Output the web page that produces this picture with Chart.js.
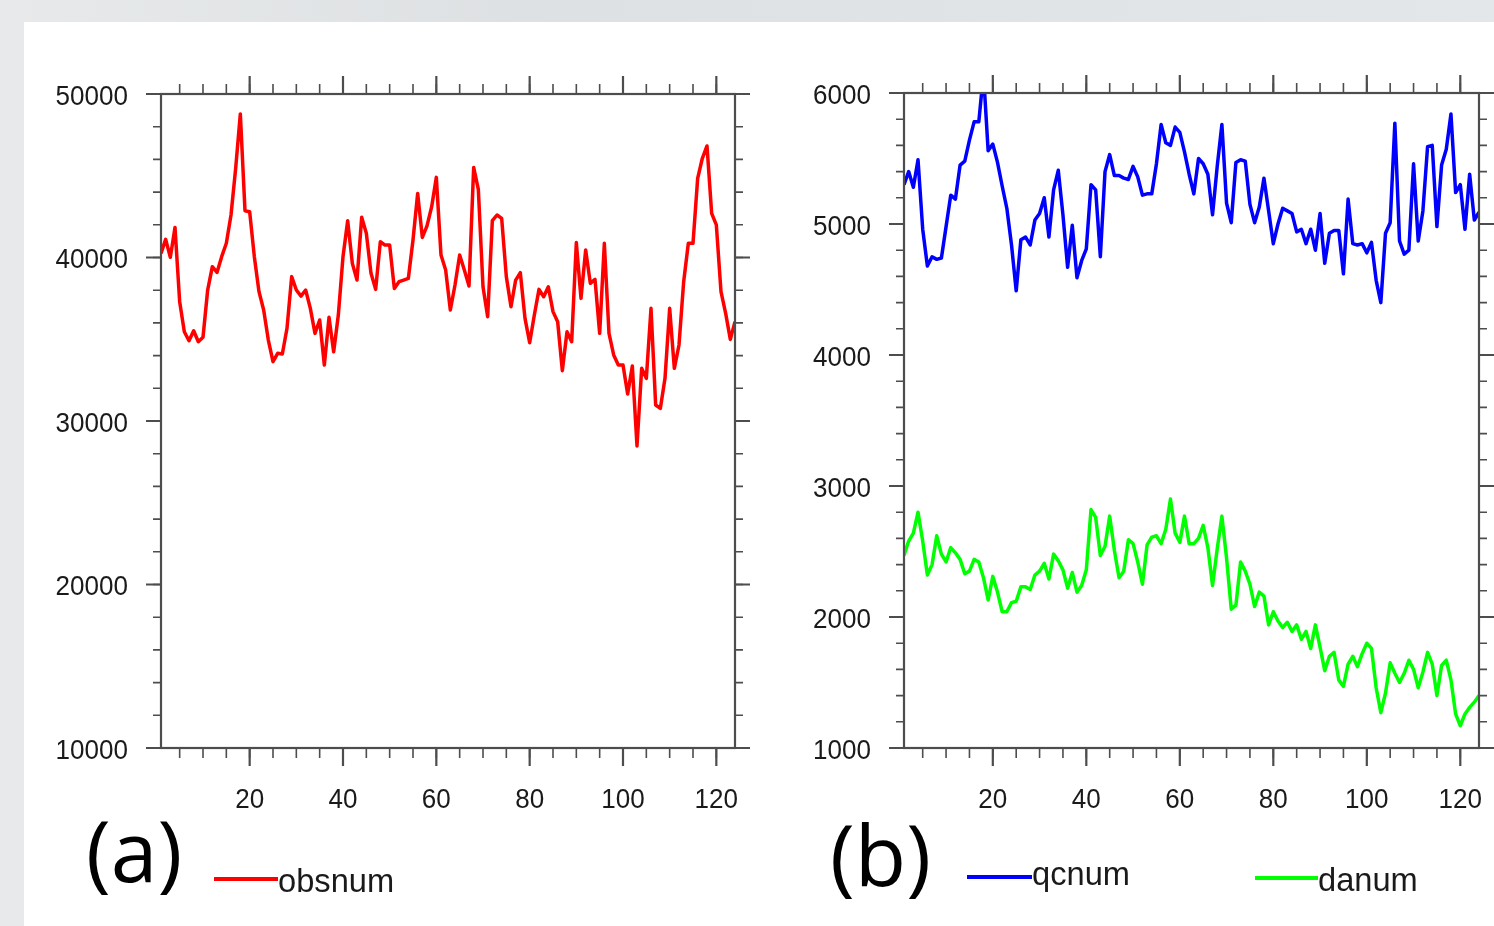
<!DOCTYPE html>
<html>
<head>
<meta charset="utf-8">
<script src="https://cdn.jsdelivr.net/npm/chart.js@4.4.1/dist/chart.umd.min.js"></script>
<style>
  html, body { margin: 0; padding: 0; }
  body {
    width: 1494px; height: 926px; position: relative; overflow: hidden;
    background: linear-gradient(90deg, #e7e9ea 0%, #dee1e3 35%, #e1e4e6 70%, #e4e7e9 100%);
  }
  #sheet { position: absolute; left: 24px; top: 22px; right: 0; bottom: 0; background: #fff; }
  canvas { position: absolute; top: 0; }
  #cvA { left: 0; }
  #cvB { left: 800px; }
  .tag { position: absolute; font-family: "Open Sans"; font-size: 84px; line-height: 1; color: #000; white-space: nowrap; }
  .key { position: absolute; font-family: "Liberation Sans"; font-size: 34px; line-height: 1; color: #1a1a1a;
         transform: scaleX(0.96); transform-origin: left top; white-space: nowrap; }
  .swatch { position: absolute; height: 4px; }
</style>
</head>
<body>
<div id="sheet"></div>
<canvas id="cvA" width="800" height="926"></canvas>
<canvas id="cvB" width="694" height="926"></canvas>

<div class="tag" style="left:86px; top:808px;">(a)</div>
<div class="swatch" style="left:214px; top:877px; width:64px; background:#ff0000;"></div>
<div class="key" style="left:278px; top:863px;">obsnum</div>

<div class="tag" style="left:830px; top:812px;">(b)</div>
<div class="swatch" style="left:967px; top:875px; width:65px; background:#0000ff;"></div>
<div class="key" style="left:1032px; top:856px;">qcnum</div>
<div class="swatch" style="left:1255px; top:876px; width:63px; background:#00ff00;"></div>
<div class="key" style="left:1318px; top:862px;">danum</div>

<script>
// observation counts per analysis cycle
const obsnum = [
  40250, 41110, 40010, 41840, 37300, 35460, 34910, 35520, 34850, 35120,
  38010, 39440, 39090, 40050, 40870, 42600, 45450, 48780, 42860, 42800,
  40050, 37910, 36790, 34950, 33630, 34140, 34100, 35670, 38830, 38010,
  37640, 38010, 36890, 35360, 36180, 33420, 36340, 34240, 36480, 40050,
  42250, 39640, 38620, 42460, 41480, 39030, 38050, 40970, 40760, 40760,
  38110, 38520, 38620, 38720, 41070, 43920, 41230, 41930, 43110, 44900,
  40150, 39230, 36790, 38320, 40150, 39230, 38260, 45510, 44170, 38210,
  36380, 42250, 42600, 42390, 38830, 36990, 38620, 39070, 36280, 34790,
  36480, 38050, 37600, 38210, 36690, 36070, 33080, 35460, 34850, 40910,
  37500, 40460, 38420, 38660, 35360, 40870, 35360, 34040, 33420, 33420,
  31650, 33360, 28470, 33220, 32610, 36890, 30980, 30770, 32610, 36890,
  33220, 34650, 38520, 40870, 40870, 44840, 46070, 46820, 42700, 41990,
  37910, 36580, 34990, 36070
];

// counts after quality control
const qcnum = [
  5300, 5400, 5280, 5490, 4960, 4680, 4750, 4730, 4740, 4980,
  5220, 5190, 5450, 5480, 5640, 5780, 5780, 6150, 5560, 5610,
  5470, 5290, 5120, 4840, 4490, 4880, 4900, 4840, 5030, 5080,
  5200, 4900, 5260, 5410, 5070, 4670, 4990, 4590, 4720, 4810,
  5300, 5260, 4750, 5400, 5530, 5370, 5370, 5350, 5340, 5440,
  5360, 5220, 5230, 5230, 5460, 5760, 5620, 5600, 5740, 5700,
  5550, 5380, 5230, 5500, 5460, 5380, 5070, 5440, 5760, 5160,
  5010, 5470, 5490, 5480, 5150, 5010, 5130, 5350, 5100, 4850,
  5000, 5120, 5100, 5080, 4940, 4960, 4850, 4960, 4800, 5080,
  4700, 4930, 4950, 4950, 4620, 5190, 4850, 4840, 4850, 4780,
  4860, 4570, 4400, 4930, 5010, 5770, 4870, 4770, 4800, 5460,
  4870, 5100, 5590, 5600, 4980, 5450, 5570, 5840, 5240, 5300,
  4960, 5380, 5030, 5090
];

// counts actually assimilated
const danum = [
  2470, 2580, 2640, 2800, 2580, 2320, 2400, 2620, 2480, 2420,
  2530, 2490, 2440, 2330, 2350, 2440, 2420, 2300, 2130, 2310,
  2190, 2040, 2040, 2110, 2120, 2230, 2230, 2210, 2320, 2350,
  2410, 2290, 2480, 2430, 2360, 2220, 2340, 2190, 2240, 2360,
  2820, 2760, 2470, 2540, 2770, 2510, 2300, 2350, 2590, 2560,
  2420, 2250, 2550, 2610, 2620, 2560, 2670, 2900, 2640, 2570,
  2770, 2560, 2560, 2600, 2700, 2530, 2240, 2520, 2770, 2450,
  2060, 2090, 2420, 2350, 2250, 2080, 2190, 2160, 1940, 2040,
  1970, 1920, 1960, 1890, 1940, 1830, 1890, 1760, 1940, 1770,
  1590, 1700, 1730, 1520, 1470, 1640, 1700, 1620, 1720, 1800,
  1760, 1460, 1270, 1420, 1650, 1570, 1500, 1570, 1670, 1600,
  1460, 1580, 1730, 1640, 1400, 1630, 1670, 1520, 1260, 1170,
  1260, 1310, 1350, 1400
];

const steps = obsnum.map((_, i) => i + 1);

const xTicks = [20, 40, 60, 80, 100, 120];
const obsTicks = [10000, 20000, 30000, 40000, 50000];
const numTicks = [1000, 2000, 3000, 4000, 5000, 6000];

// NCL-like frame: outward major/minor ticks on all four sides
const axisFrame = {
  id: 'axisFrame',
  afterDatasetsDraw(chart, args, o) {
    const { ctx, chartArea: a, scales: { x, y } } = chart;
    const MAJ_V = 18, MAJ_H = 15, MIN_V = 10, MIN_H = 8;
    ctx.save();
    ctx.strokeStyle = '#4d4d4d';
    ctx.lineCap = 'butt';

    ctx.lineWidth = 1.6;
    ctx.beginPath();
    for (let v = o.xMinor; v <= x.max; v += o.xMinor) {
      const px = x.getPixelForValue(v);
      if (px < a.left) continue;
      ctx.moveTo(px, a.bottom); ctx.lineTo(px, a.bottom + MIN_V);
      ctx.moveTo(px, a.top); ctx.lineTo(px, a.top - MIN_V);
    }
    for (let v = y.min; v <= y.max; v += o.yMinor) {
      const py = y.getPixelForValue(v);
      ctx.moveTo(a.left, py); ctx.lineTo(a.left - MIN_H, py);
      ctx.moveTo(a.right, py); ctx.lineTo(a.right + MIN_H, py);
    }
    ctx.stroke();

    ctx.lineWidth = 2.2;
    ctx.beginPath();
    xTicks.forEach(v => {
      const px = x.getPixelForValue(v);
      ctx.moveTo(px, a.bottom); ctx.lineTo(px, a.bottom + MAJ_V);
      ctx.moveTo(px, a.top); ctx.lineTo(px, a.top - MAJ_V);
    });
    o.yTicks.forEach(v => {
      const py = y.getPixelForValue(v);
      ctx.moveTo(a.left, py); ctx.lineTo(a.left - MAJ_H, py);
      ctx.moveTo(a.right, py); ctx.lineTo(a.right + MAJ_H, py);
    });
    ctx.stroke();
    ctx.strokeRect(a.left, a.top, a.right - a.left, a.bottom - a.top);

    ctx.fillStyle = '#1a1a1a';
    ctx.font = '28px "Liberation Sans"';
    ctx.textBaseline = 'alphabetic';
    const sx = 0.93;
    ctx.textAlign = 'center';
    xTicks.forEach(v => {
      ctx.save();
      ctx.translate(x.getPixelForValue(v), a.bottom + 60);
      ctx.scale(sx, 1);
      ctx.fillText(String(v), 0, 0);
      ctx.restore();
    });
    ctx.textAlign = 'right';
    o.yTicks.forEach(v => {
      ctx.save();
      ctx.translate(a.left - 33, y.getPixelForValue(v) + 10.5);
      ctx.scale(sx, 1);
      ctx.fillText(String(v), 0, 0);
      ctx.restore();
    });
    ctx.restore();
  }
};

function lineSet(label, data, color) {
  return {
    label, data,
    borderColor: color,
    borderWidth: 3.5,
    borderJoinStyle: 'round',
    pointRadius: 0,
    tension: 0,
    clip: 0
  };
}

function panel(id, datasets, yMin, yMax, yTicks, yMinor, pad) {
  return new Chart(document.getElementById(id), {
    type: 'line',
    data: { labels: steps, datasets },
    options: {
      responsive: false,
      animation: false,
      devicePixelRatio: 1,
      layout: { padding: pad },
      scales: {
        x: { type: 'linear', min: 1, max: 124, display: false },
        y: { min: yMin, max: yMax, display: false }
      },
      plugins: {
        legend: { display: false },
        tooltip: { enabled: false },
        axisFrame: { yTicks, yMinor, xMinor: 5 }
      }
    },
    plugins: [axisFrame]
  });
}

panel('cvA', [lineSet('obsnum', obsnum, '#ff0000')],
  10000, 50000, obsTicks, 2000,
  { left: 161, top: 94, right: 800 - 735, bottom: 926 - 748 });

panel('cvB', [lineSet('qcnum', qcnum, '#0000ff'), lineSet('danum', danum, '#00ff00')],
  1000, 6000, numTicks, 200,
  { left: 104, top: 93, right: 694 - 679, bottom: 926 - 748 });
</script>
</body>
</html>
